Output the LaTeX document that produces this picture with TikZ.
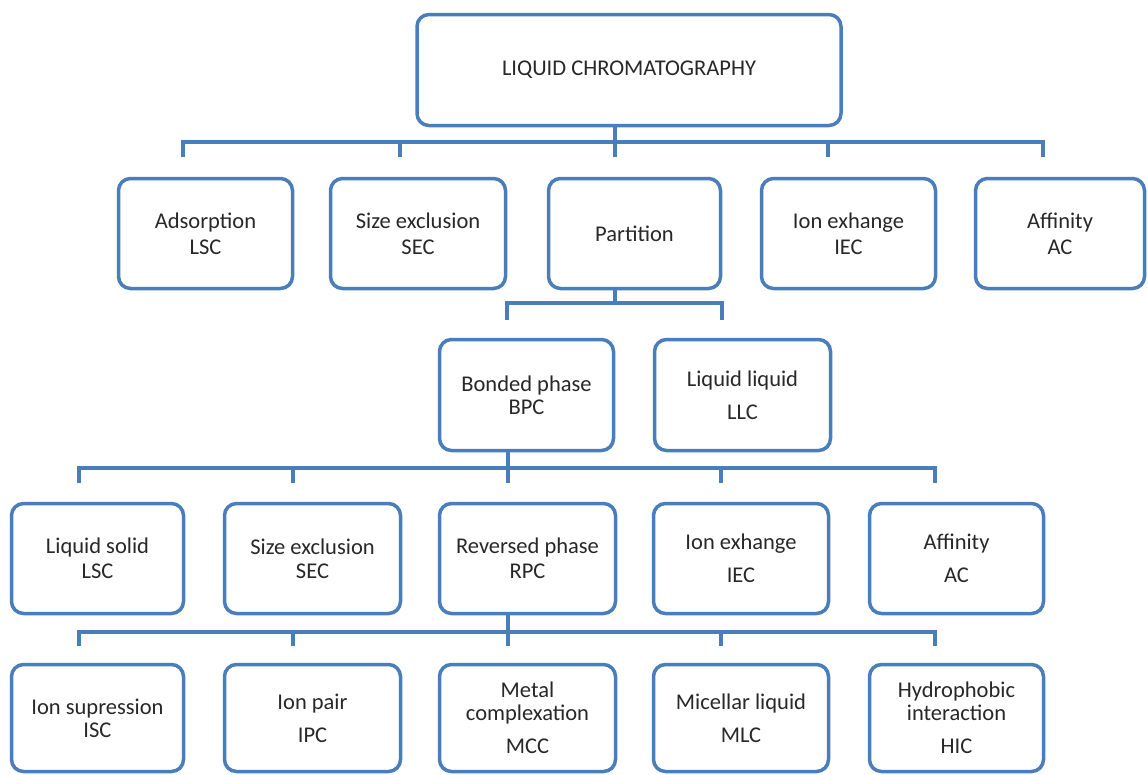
\documentclass[tikz,border=0pt]{standalone}
\usepackage{fontspec}
\setmainfont{Carlito}
\definecolor{lc}{RGB}{74,126,187}
\definecolor{tc}{RGB}{40,40,40}
\begin{document}
\begin{tikzpicture}[x=1pt,y=-1pt,
  box/.style={draw=lc, line width=3.5pt, rounded corners=12pt, fill=white,
    align=center, text=tc, inner sep=0pt, font=\fontsize{22.5}{25}\selectfont},
  r1/.style={box, minimum height=110pt},
  conn/.style={draw=lc, line width=4pt}]
\useasboundingbox (0,0) rectangle (1148,774);
\fill[white] (0,0) rectangle (1148,774);

% top
\node[box, minimum width=424pt, minimum height=111pt] (top) at (629,70) {LIQUID CHROMATOGRAPHY};

% row 1
\node[r1, minimum width=174pt] (ads) at (205.5,233.5) {Adsorption\\[1pt]LSC};
\node[r1, minimum width=175pt] (sec1) at (418,233.5) {Size exclusion\\[1pt]SEC};
\node[r1, minimum width=172pt] (part) at (634.5,233.5) {Partition};
\node[r1, minimum width=174pt] (iec1) at (848.5,233.5) {Ion exhange\\[1pt]IEC};
\node[r1, minimum width=169pt] (ac1) at (1060,233.5) {Affinity\\[1pt]AC};

% row 2
\node[r1, minimum width=174pt, minimum height=111pt] (bpc) at (526.5,395) {Bonded phase\\[-2pt]BPC};
\node[r1, minimum width=176pt, minimum height=111pt] (llc) at (742.5,395) {Liquid liquid\\[8pt]LLC};

% row 3
\node[r1, minimum width=172pt] (lsc) at (97.5,558.5) {Liquid solid\\LSC};
\node[r1, minimum width=176pt] (sec2) at (312.5,558.5) {Size exclusion\\[-1pt]SEC};
\node[r1, minimum width=176pt] (rpc) at (527.5,558.5) {Reversed phase\\RPC};
\node[r1, minimum width=175pt] (iec2) at (741,558.5) {Ion exhange\\[8pt]IEC};
\node[r1, minimum width=174pt] (ac2) at (956.5,558.5) {Affinity\\[8pt]AC};

% row 4
\node[r1, minimum width=172pt, minimum height=107pt] (isc) at (97.5,718) {Ion supression\\[-2pt]ISC};
\node[r1, minimum width=176pt, minimum height=107pt] (ipc) at (312.5,718) {Ion pair\\[8pt]IPC};
\node[r1, minimum width=176pt, minimum height=107pt] (mcc) at (527.5,718) {Metal\\[-2pt]complexation\\[8pt]MCC};
\node[r1, minimum width=175pt, minimum height=107pt] (mlc) at (741,718) {Micellar liquid\\[8pt]MLC};
\node[r1, minimum width=174pt, minimum height=107pt] (hic) at (956.5,718) {Hydrophobic\\[-2pt]interaction\\[8pt]HIC};

% connectors: top level
\coordinate (j0) at (615,142);
\coordinate (d1) at (183,157);
\coordinate (d2) at (400,157);
\coordinate (d3) at (615,157);
\coordinate (d4) at (828,157);
\coordinate (d5) at (1043,157);
\draw[conn] (j0 |- top.south) -- (d3);
\draw[conn] (d1) -- (d1 |- j0) -- (d5 |- j0) -- (d5);
\draw[conn] (d2) -- (d2 |- j0);
\draw[conn] (d4) -- (d4 |- j0);

% partition -> row 2
\coordinate (p0) at (615,303);
\coordinate (e1) at (507,320);
\coordinate (e2) at (722,320);
\draw[conn] (p0 |- part.south) -- (p0);
\draw[conn] (e1) -- (e1 |- p0) -- (e2 |- p0) -- (e2);

% bonded phase -> row 3
\coordinate (q0) at (508,468);
\coordinate (f1) at (79,483);
\coordinate (f2) at (293,483);
\coordinate (f3) at (508,483);
\coordinate (f4) at (721,483);
\coordinate (f5) at (935,483);
\draw[conn] (q0 |- bpc.south) -- (f3);
\draw[conn] (f1) -- (f1 |- q0) -- (f5 |- q0) -- (f5);
\draw[conn] (f2) -- (f2 |- q0);
\draw[conn] (f4) -- (f4 |- q0);

% reversed phase -> row 4
\coordinate (r0) at (508,632);
\coordinate (g1) at (79,646);
\coordinate (g2) at (293,646);
\coordinate (g3) at (508,646);
\coordinate (g4) at (721,646);
\coordinate (g5) at (935,646);
\draw[conn] (r0 |- rpc.south) -- (g3);
\draw[conn] (g1) -- (g1 |- r0) -- (g5 |- r0) -- (g5);
\draw[conn] (g2) -- (g2 |- r0);
\draw[conn] (g4) -- (g4 |- r0);
\end{tikzpicture}
\end{document}
